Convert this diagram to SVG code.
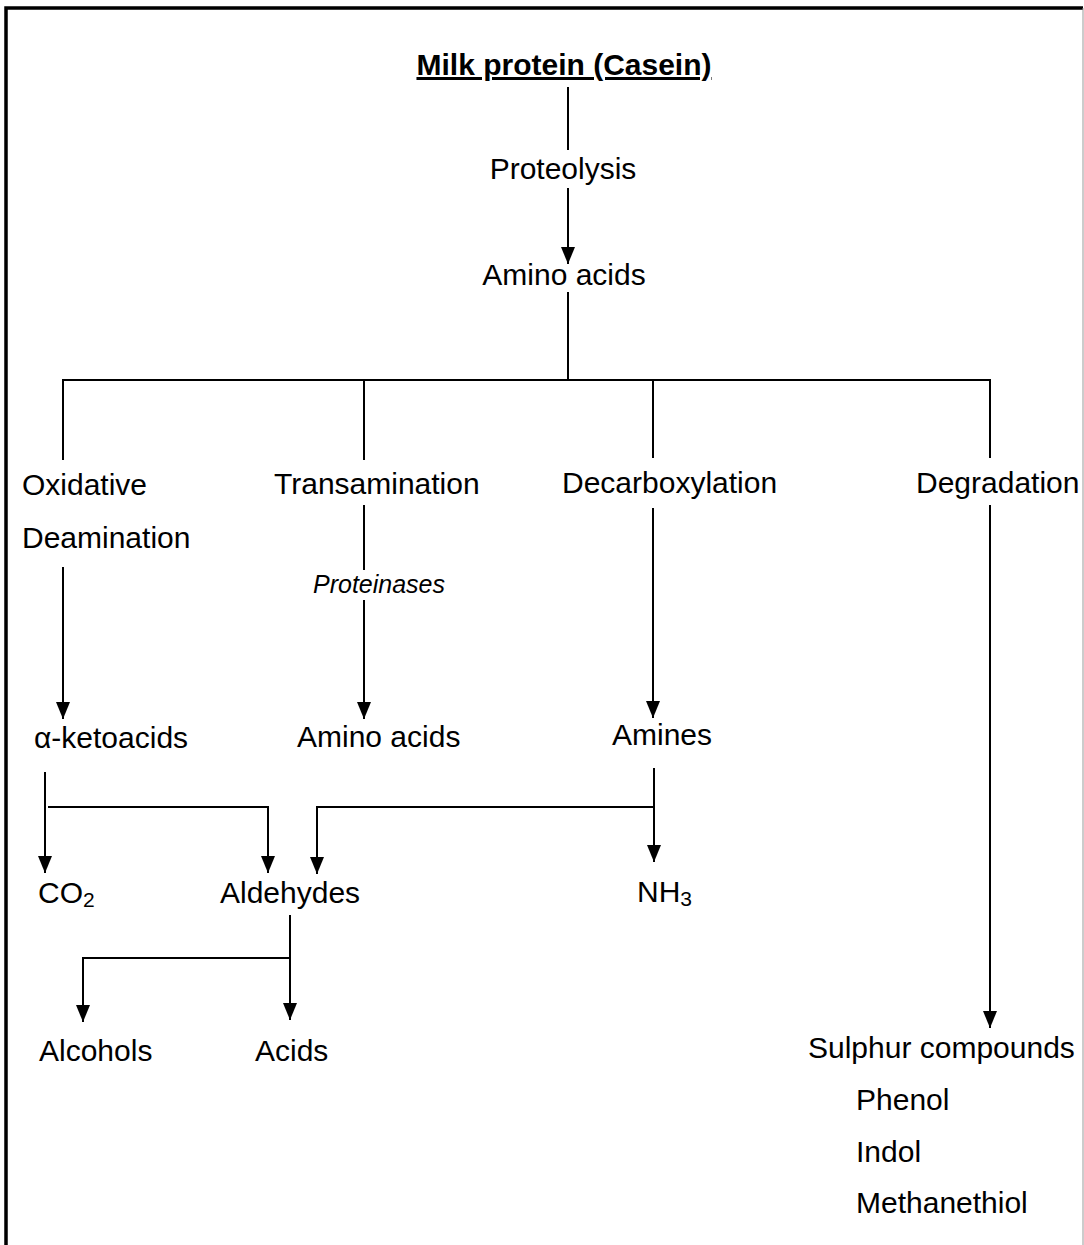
<svg xmlns="http://www.w3.org/2000/svg" width="1084" height="1245" viewBox="0 0 1084 1245">
<defs>
<marker id="ahd" markerUnits="userSpaceOnUse" viewBox="0 0 17 14" markerWidth="17" markerHeight="14" refX="17" refY="7" orient="auto">
<path d="M0,0 L17,7 L0,14 z" fill="#000"/>
</marker>
<style>
text{font-family:"Liberation Sans",Arial,sans-serif;font-size:30px;fill:#000}
.b{font-weight:bold}
.i{font-style:italic;font-size:25px}
.ln{stroke:#000;stroke-width:2;fill:none}
.ar{stroke:#000;stroke-width:2;fill:none;marker-end:url(#ahd)}
</style>
</defs>
<rect width="1084" height="1245" fill="#fff"/>
<g id="frame">
<path d="M6,1245 V8 H1083" stroke="#000" stroke-width="3.5" fill="none"/>
<line x1="1083" y1="8" x2="1083" y2="1245" stroke="#999" stroke-width="1"/>
</g>
<g id="connectors">
<line class="ln" x1="568" y1="87" x2="568" y2="150"/>
<line class="ar" x1="568" y1="188" x2="568" y2="264"/>
<line class="ln" x1="568" y1="292" x2="568" y2="380"/>
<line class="ln" x1="62" y1="380" x2="991" y2="380"/>
<line class="ln" x1="63" y1="379" x2="63" y2="460"/>
<line class="ln" x1="364" y1="379" x2="364" y2="460"/>
<line class="ln" x1="653" y1="379" x2="653" y2="458"/>
<line class="ln" x1="990" y1="379" x2="990" y2="458"/>
<line class="ar" x1="63" y1="567" x2="63" y2="719"/>
<line class="ln" x1="364" y1="505" x2="364" y2="570"/>
<line class="ar" x1="364" y1="600" x2="364" y2="719"/>
<line class="ar" x1="653" y1="508" x2="653" y2="718"/>
<line class="ar" x1="990" y1="505" x2="990" y2="1028"/>
<line class="ar" x1="45" y1="772" x2="45" y2="873"/>
<path class="ar" d="M48,807 H268 V873"/>
<line class="ar" x1="654" y1="768" x2="654" y2="862" stroke-width="3"/>
<path class="ar" d="M654,807 H317 V874"/>
<line class="ln" x1="290" y1="915" x2="290" y2="958"/>
<path class="ar" d="M290,958 H83 V1022" stroke-width="2.5"/>
<line class="ar" x1="290" y1="958" x2="290" y2="1020"/>
</g>
<g id="milk"><text class="b" x="564" y="75" text-anchor="middle" text-decoration="underline">Milk protein (Casein)</text></g>
<g id="proteolysis"><text x="563" y="179" text-anchor="middle">Proteolysis</text></g>
<g id="amino-top"><text x="564" y="285" text-anchor="middle">Amino acids</text></g>
<g id="oxidative"><text x="22" y="495">Oxidative</text><text x="22" y="548">Deamination</text></g>
<g id="transamination"><text x="274" y="494">Transamination</text></g>
<g id="proteinases"><text class="i" x="379" y="593" text-anchor="middle">Proteinases</text></g>
<g id="decarboxylation"><text x="562" y="493">Decarboxylation</text></g>
<g id="degradation"><text x="916" y="493">Degradation</text></g>
<g id="ketoacids"><text x="34" y="748">α-ketoacids</text></g>
<g id="amino-acids"><text x="297" y="747">Amino acids</text></g>
<g id="amines"><text x="612" y="745">Amines</text></g>
<g id="co2"><text x="38" y="903">CO<tspan font-size="21" dy="4">2</tspan></text></g>
<g id="aldehydes"><text x="220" y="903">Aldehydes</text></g>
<g id="nh3"><text x="637" y="902">NH<tspan font-size="21" dy="4">3</tspan></text></g>
<g id="alcohols"><text x="39" y="1061">Alcohols</text></g>
<g id="acids"><text x="255" y="1061">Acids</text></g>
<g id="sulphur"><text x="808" y="1058">Sulphur compounds</text><text x="856" y="1110">Phenol</text><text x="856" y="1162">Indol</text><text x="856" y="1213">Methanethiol</text></g>
</svg>
